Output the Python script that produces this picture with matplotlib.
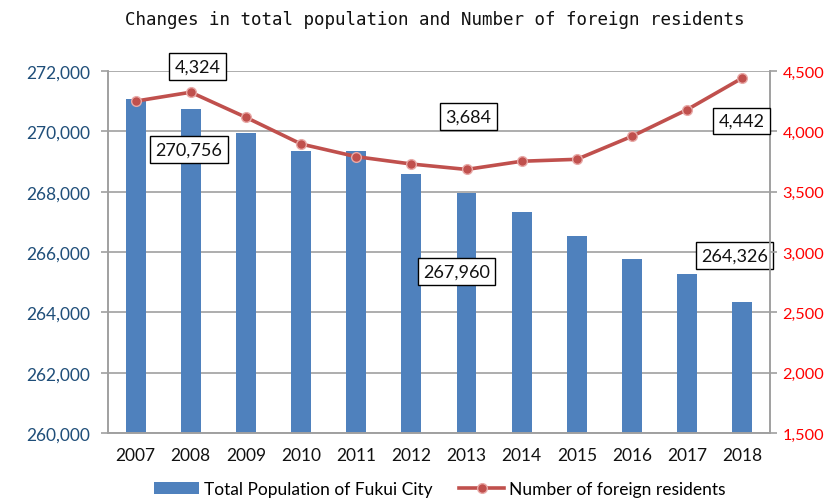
import numpy as np
import matplotlib
matplotlib.use('Agg')
import matplotlib.pyplot as plt
from matplotlib.ticker import FuncFormatter

# data
years = ['2007', '2008', '2009', '2010', '2011', '2012', '2013', '2014', '2015', '2016', '2017', '2018']
population = [271070, 270756, 269945, 269350, 269350, 268586, 267960, 267337, 266520, 265769, 265271, 264326]
foreigners = [4250, 4324, 4116, 3895, 3790, 3729, 3684, 3752, 3768, 3959, 4180, 4442]

plt.rcParams['font.family'] = ['Lato', 'DejaVu Sans']

fig = plt.figure(figsize=(8.27, 5.02), dpi=100)
ax = fig.add_axes([0.1306, 0.1355, 0.931 - 0.1306, 0.8566 - 0.1355])
ax2 = ax.twinx()

x = np.arange(len(years))
bars = ax.bar(x, population, width=0.36, color='#4F81BD', zorder=2,
              label='Total Population of Fukui City')
line, = ax2.plot(x, foreigners, color='#C0504D', lw=2.6, marker='o', markersize=7,
                 markeredgecolor='#E8A9A7', markeredgewidth=1.0,
                 label='Number of foreign residents', zorder=3)

ax.set_xlim(-0.5, len(years) - 0.5)
ax.set_ylim(260000, 272000)
ax.set_yticks(np.arange(260000, 272001, 2000))
ax2.set_ylim(1500, 4500)
ax2.set_yticks(np.arange(1500, 4501, 500))

fmt = FuncFormatter(lambda v, p: f'{int(v):,}')
ax.yaxis.set_major_formatter(fmt)
ax2.yaxis.set_major_formatter(fmt)

ax.set_xticks(x)
ax.set_xticklabels(years)

ax.grid(axis='y', color='#A0A0A0', lw=1.2, zorder=0)
ax.set_axisbelow(True)

for a in (ax, ax2):
    a.spines['top'].set_visible(False)
    for s in ('left', 'right', 'bottom'):
        a.spines[s].set_color('#A0A0A0')
        a.spines[s].set_linewidth(1.2)

ax.tick_params(axis='y', colors='#A0A0A0', labelcolor='#1F4E79', labelsize=12.5, length=5, width=1.2, pad=8)
ax.tick_params(axis='x', length=0, labelsize=12.5, labelcolor='#111111', pad=10)
ax2.tick_params(axis='y', colors='#A0A0A0', labelcolor='#FF0000', labelsize=11.8, length=5, width=1.2, pad=4)

ax.set_zorder(1)
ax2.set_zorder(2)
ax2.patch.set_visible(False)

box = dict(boxstyle='square,pad=0.3', fc='white', ec='black', lw=1.0)
notes = [
    (ax2, 1, foreigners[1], (7, 26)),
    (ax, 1, population[1], (-2, -41)),
    (ax2, 6, foreigners[6], (2, 53)),
    (ax, 6, population[6], (-10, -79)),
    (ax2, 11, foreigners[11], (-1, -43)),
    (ax, 11, population[11], (-8, 47)),
]
for a, i, v, off in notes:
    a.annotate(f'{v:,}', xy=(i, v), xytext=off, textcoords='offset pixels',
               ha='center', va='center', fontsize=13, color='#111111', bbox=box, zorder=5)

fig.text(435 / 827, 1 - 20 / 502, 'Changes in total population and Number of foreign residents',
         ha='center', va='center', fontsize=12.6, family='DejaVu Sans Mono', color='#111111')

fig.legend(handles=[bars, line], loc='center', bbox_to_anchor=(440 / 827, 1 - 490 / 502),
           ncol=2, frameon=False, fontsize=12.5, handlelength=2.6, columnspacing=1.5,
           handletextpad=0.3)

fig.savefig('out.png', dpi=100)
